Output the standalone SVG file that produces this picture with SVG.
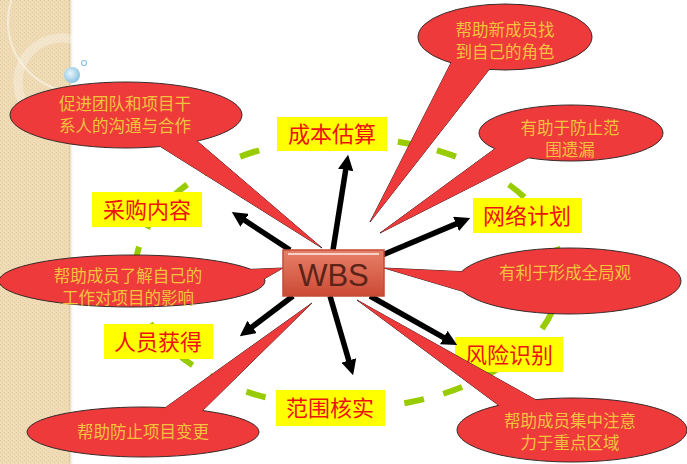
<svg xmlns="http://www.w3.org/2000/svg" width="687" height="464" viewBox="0 0 687 464">
<defs>
<style>
.lbl rect{fill:#ffff00}
.lbl text{font-family:"Noto Sans CJK SC","Noto Sans",sans-serif;font-size:22px;fill:#ee1111;text-anchor:middle}
.co .sh{fill:#ee3a3a;stroke:#3a2a2a;stroke-width:1}
.co .cv{fill:#ee3a3a}
.co text{font-family:"Noto Sans CJK SC","Noto Sans",sans-serif;font-size:16.5px;fill:#f3c23e;text-anchor:middle}
.arr line{stroke:#000;stroke-width:5.5;marker-end:url(#ah)}
</style>
<marker id="ah" viewBox="0 0 10 10" refX="3" refY="5" markerWidth="2.8" markerHeight="2.8" orient="auto" markerUnits="strokeWidth">
<path d="M0,0 L10,5 L0,10 z" fill="#000"/>
</marker>
<pattern id="dots" width="4" height="4" patternUnits="userSpaceOnUse">
<rect width="4" height="4" fill="#efdcb6"/>
<rect x="0" y="0" width="1" height="1" fill="#e4cca0"/>
<rect x="2" y="2" width="1" height="1" fill="#e4cca0"/>
</pattern>
<linearGradient id="edge" x1="0" x2="1" y1="0" y2="0">
<stop offset="0" stop-color="#d8c49c"/>
<stop offset="1" stop-color="#ffffff" stop-opacity="0"/>
</linearGradient>
<linearGradient id="wbsg" x1="0" x2="0" y1="0" y2="1">
<stop offset="0" stop-color="#e8806a"/>
<stop offset="1" stop-color="#cc4a34"/>
</linearGradient>
<radialGradient id="bub" cx="0.4" cy="0.4" r="0.6">
<stop offset="0" stop-color="#e8f6fc"/>
<stop offset="1" stop-color="#8cc4e0"/>
</radialGradient>
</defs>

<rect width="687" height="464" fill="#ffffff"/>
<g id="background">
<rect x="0" y="0" width="70" height="464" fill="url(#dots)"/>
<rect x="69" y="0" width="5" height="464" fill="url(#edge)"/>
<circle cx="78" cy="22" r="70" fill="none" stroke="#ffffff" stroke-opacity="0.45" stroke-width="2"/>
<circle cx="62" cy="82" r="44" fill="none" stroke="#ffffff" stroke-opacity="0.3" stroke-width="9"/>
<circle cx="72" cy="75" r="8" fill="url(#bub)"/>
<circle cx="84" cy="63" r="2.5" fill="none" stroke="#8cc4e0" stroke-width="1.2"/>
</g>

<g id="ring">
<ellipse cx="348" cy="273" rx="213" ry="135" fill="none" stroke="#99cc00" stroke-width="6" stroke-dasharray="20 20"/>
</g>

<g id="label-cost" class="lbl"><rect x="277" y="117" width="110" height="34"/><text x="332" y="142">成本估算</text></g>
<g id="label-purchase" class="lbl"><rect x="92" y="192" width="110" height="35"/><text x="147" y="218">采购内容</text></g>
<g id="label-network" class="lbl"><rect x="473" y="198" width="109" height="35"/><text x="527" y="224">网络计划</text></g>
<g id="label-staff" class="lbl"><rect x="104" y="324" width="109" height="35"/><text x="158" y="350">人员获得</text></g>
<g id="label-scope" class="lbl"><rect x="276" y="390" width="109" height="36"/><text x="330" y="416">范围核实</text></g>
<g id="label-risk" class="lbl"><rect x="455" y="337" width="108" height="35"/><text x="509" y="363">风险识别</text></g>

<g id="connectors" class="arr">
<line x1="333" y1="250" x2="346.4" y2="165.4"/>
<line x1="290" y1="250" x2="240.8" y2="217.8"/>
<line x1="380" y1="256" x2="460.3" y2="222.1"/>
<line x1="293" y1="296" x2="248.4" y2="329.7"/>
<line x1="330" y1="296" x2="350.1" y2="364.9"/>
<line x1="370" y1="296" x2="447.8" y2="339.8"/>
</g>

<g id="callout-role" class="co">
<polygon class="sh" points="455,55 495,62 370,222"/>
<ellipse class="sh" cx="505" cy="37" rx="87" ry="33"/>
<polygon class="cv" points="455,55 495,62 370,222"/>
<text x="505" y="36">帮助新成员找</text><text x="505" y="58">到自己的角色</text>
</g>
<g id="callout-scope" class="co">
<polygon class="sh" points="500,145 540,152 380,233"/>
<ellipse class="sh" cx="571" cy="133" rx="92" ry="28"/>
<polygon class="cv" points="500,145 540,152 380,233"/>
<text x="570" y="134">有助于防止范</text><text x="570" y="156">围遗漏</text>
</g>
<g id="callout-communication" class="co">
<polygon class="sh" points="150,140 190,135 322,248"/>
<ellipse class="sh" cx="126" cy="115" rx="116" ry="33"/>
<polygon class="cv" points="150,140 190,135 322,248"/>
<text x="125" y="110">促进团队和项目干</text><text x="125" y="132">系人的沟通与合作</text>
</g>
<g id="callout-impact" class="co">
<polygon class="sh" points="235,270 245,290 283,268"/>
<ellipse class="sh" cx="132" cy="281" rx="133" ry="26"/>
<polygon class="cv" points="235,270 245,290 283,268"/>
<text x="128" y="282">帮助成员了解自己的</text><text x="128" y="304">工作对项目的影响</text>
</g>
<g id="callout-overview" class="co">
<polygon class="sh" points="470,272 475,295 384,268"/>
<ellipse class="sh" cx="569" cy="281" rx="112" ry="33"/>
<polygon class="cv" points="470,272 475,295 384,268"/>
<text x="565" y="279">有利于形成全局观</text>
</g>
<g id="callout-change" class="co">
<polygon class="sh" points="155,415 195,418 312,303"/>
<ellipse class="sh" cx="143" cy="432" rx="116" ry="25"/>
<polygon class="cv" points="155,415 195,418 312,303"/>
<text x="143" y="438">帮助防止项目变更</text>
</g>
<g id="callout-focus" class="co">
<polygon class="sh" points="505,410 545,405 357,300"/>
<ellipse class="sh" cx="572" cy="430" rx="115" ry="32"/>
<polygon class="cv" points="505,410 545,405 357,300"/>
<text x="570" y="427">帮助成员集中注意</text><text x="570" y="449">力于重点区域</text>
</g>

<g id="wbs">
<rect x="283" y="250" width="101" height="46" fill="url(#wbsg)" stroke="#c24c36" stroke-width="1.5"/>
<line x1="288" y1="254" x2="379" y2="254" stroke="#f6d2c8" stroke-width="2"/>
<text x="333.5" y="286" font-family="Liberation Sans, Arial, sans-serif" font-size="31" fill="#5a2418" text-anchor="middle">WBS</text>
</g>
</svg>
